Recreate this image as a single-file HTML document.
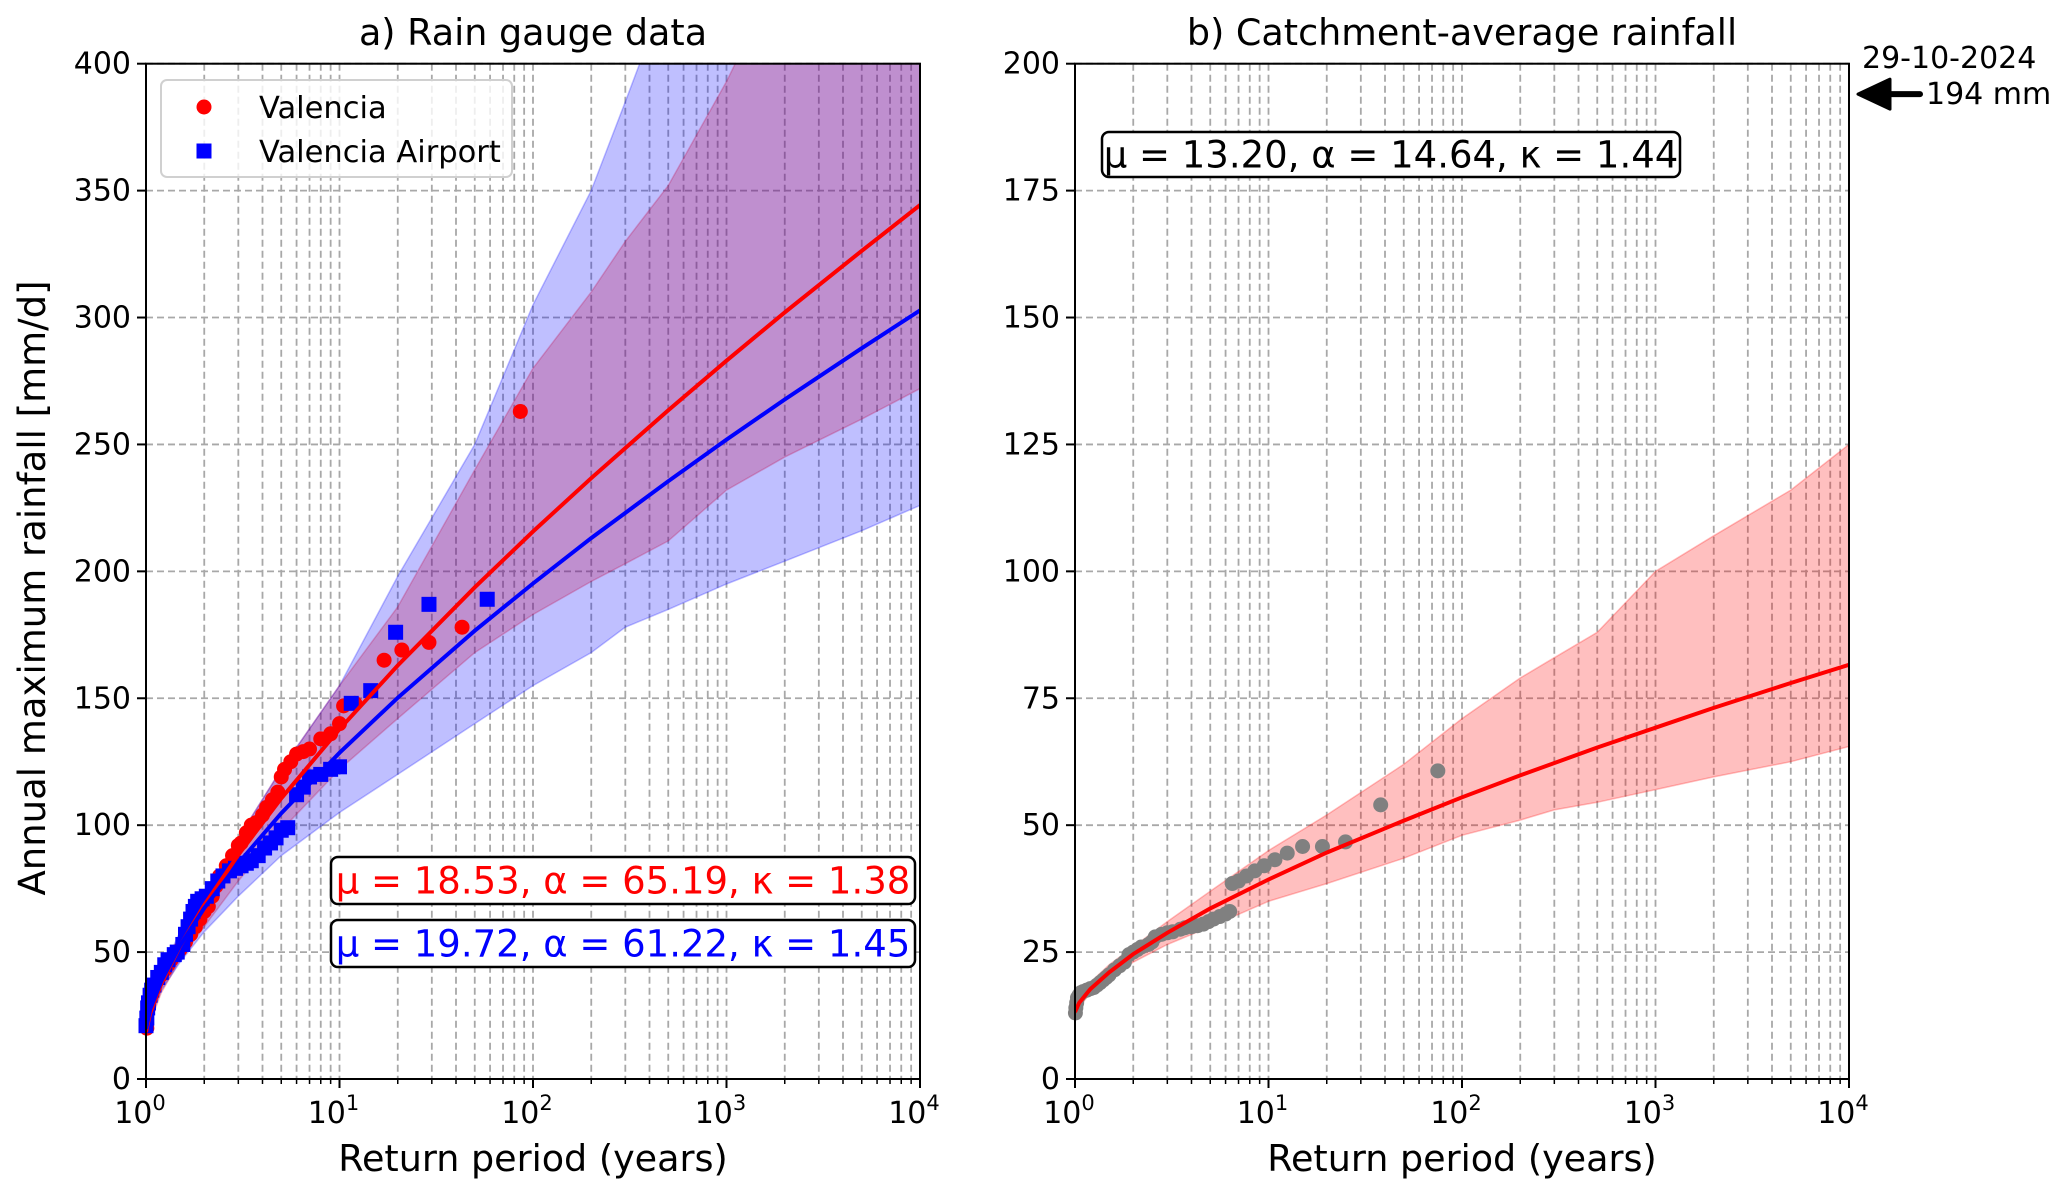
<!DOCTYPE html>
<html><head><meta charset="utf-8">
<style>
html,body{margin:0;padding:0;background:#fff;}
svg{display:block;font-family:"DejaVu Sans","Liberation Sans",sans-serif;}
</style></head>
<body>
<svg id="fig" width="2067" height="1196" viewBox="0 0 2067 1196" xmlns="http://www.w3.org/2000/svg"></svg>
<script>
// ---------- data ----------
const curveT = [1, 1.05, 1.2, 1.5, 2, 3, 5, 10, 20, 50, 100, 200, 500, 1000, 2000, 5000, 10000];
const valenciaFit = [18.5, 25.8, 37.5, 52.4, 68.5, 88.3, 110.6, 137.8, 162.9, 193.7, 215.7, 236.7, 263.5, 283.0, 302.0, 326.3, 344.3];
const airportFit = [19.7, 27.3, 38.6, 52.6, 67.3, 85.0, 104.7, 128.5, 150.2, 176.6, 195.2, 213.1, 235.5, 251.9, 267.7, 287.9, 302.8];
const catchFit = [13.2, 15.0, 17.7, 21.0, 24.6, 28.8, 33.6, 39.3, 44.6, 50.9, 55.5, 59.8, 65.3, 69.2, 73.1, 78.0, 81.6];

const bandT = [1, 1.2, 1.5, 2, 3, 5, 10, 20, 50, 100, 200, 300, 500, 1000, 2000, 5000, 10000];
const valenciaLow = [18, 34, 47, 60, 78, 98, 122, 142, 168, 183, 196, 203, 212, 232, 245, 260, 272];
const valenciaHigh = [19, 41, 57, 73, 95, 122, 155, 186, 240, 280, 310, 330, 352, 393, 440, 500, 545];
const airportLow = [19, 35, 46, 58, 72, 88, 105, 120, 140, 155, 168, 178, 185, 195, 204, 216, 226];
const airportHigh = [20, 42, 58, 72, 95, 122, 155, 198, 250, 305, 350, 385, 430, 500, 560, 640, 700];
const catchLow = [13, 17, 20, 23, 26.5, 30, 35, 38.5, 43.5, 48, 51, 53, 54.5, 57, 59.5, 62.5, 65.5];
const catchHigh = [13.5, 19, 22.5, 26, 31, 37, 45, 52, 62, 71, 79, 83, 88, 100, 107, 116, 125];

const valT = [86, 43, 29, 21, 17, 12, 10.5, 10, 9, 8, 7, 6.5, 6, 5.6, 5.2, 5, 4.8, 4.5, 4.2, 4, 3.7, 3.5, 3.3, 3.1, 3, 2.8, 2.6, 2.4, 2.3, 2.2, 2.1, 2.0, 1.9, 1.8, 1.7, 1.6, 1.5, 1.45, 1.35, 1.3, 1.25, 1.2, 1.15, 1.1, 1.07, 1.05, 1.03, 1.01];
const valV = [263, 178, 172, 169, 165, 148, 147, 140, 136, 134, 130, 129, 128, 125, 122, 119, 113, 110, 107, 104, 101, 100, 97, 93, 92, 88, 84, 80, 76, 72, 68, 66, 63, 60, 57, 54, 51, 50, 47, 45, 43, 41, 39, 37, 35, 32, 28, 20];
const airT = [58, 29, 19.5, 14.5, 11.5, 10, 9, 8, 7, 6.5, 6, 5.4, 5, 4.7, 4.4, 4.1, 3.8, 3.5, 3.3, 3.1, 2.9, 2.7, 2.5, 2.35, 2.2, 2.05, 1.95, 1.85, 1.8, 1.75, 1.7, 1.65, 1.6, 1.55, 1.45, 1.4, 1.3, 1.25, 1.2, 1.15, 1.1, 1.07, 1.05, 1.03, 1.02, 1.01, 1.0];
const airV = [189, 187, 176, 153, 148, 123, 122, 120, 119, 115, 112, 99, 98, 95, 93, 91, 88, 86, 85, 84, 83, 82, 80, 78, 75, 72, 71, 70, 68, 66, 63, 60, 57, 53, 50, 49, 47, 45, 42, 40, 37, 35, 33, 30, 28, 24, 21];
const catT = [75, 38, 25, 19, 15, 12.5, 10.8, 9.5, 8.5, 7.7, 7, 6.5, 6.3, 6, 5.6, 5.2, 4.9, 4.6, 4.3, 4.0, 3.7, 3.5, 3.2, 3.0, 2.8, 2.6, 2.5, 2.4, 2.2, 2.1, 2.0, 1.9, 1.8, 1.7, 1.6, 1.5, 1.45, 1.4, 1.35, 1.3, 1.25, 1.2, 1.15, 1.1, 1.07, 1.05, 1.03, 1.02, 1.01, 1.005];
const catV = [60.7, 54, 46.7, 45.8, 45.8, 44.5, 43.2, 42, 41, 40, 39, 38.5, 33, 32.5, 32, 31.5, 31, 30.5, 30.2, 30, 29.8, 29.5, 29, 28.8, 28.5, 28, 27, 26.5, 26, 25.5, 25, 24.5, 23, 22.3, 21.5, 20.5, 20, 19.5, 19, 18.5, 18, 17.8, 17.5, 17.2, 17, 16.5, 16, 15, 14, 13];

const yTicksA = [0, 50, 100, 150, 200, 250, 300, 350, 400];
const yTicksB = [0, 25, 50, 75, 100, 125, 150, 175, 200];
const xDecades = [0, 1, 2, 3, 4];

// ---------- helpers ----------
const NS = "http://www.w3.org/2000/svg";
const svg = document.getElementById('fig');
function mk(tag, attrs, parent) {
  const e = document.createElementNS(NS, tag);
  for (const k in attrs) e.setAttribute(k, attrs[k]);
  (parent || svg).appendChild(e);
  return e;
}
const TOP = 63.7, BOT = 1079;
function makeAxes(left, right, ymax) {
  const x = t => left + Math.log10(t) / 4 * (right - left);
  const y = v => BOT - v / ymax * (BOT - TOP);
  return { x, y, left, right };
}
const A = makeAxes(146, 920, 400);
const B = makeAxes(1075, 1849, 200);

function drawGrid(ax, yTicks, name) {
  const g = mk('g', {});
  
  
  for (let d = 0; d < 4; d++) for (let m = 1; m <= 9; m++) {
    const t = Math.pow(10, d) * m;
    if (t === 1) continue;
    const X = ax.x(t);
    const l = mk('line', { x1: X, x2: X, y1: TOP, y2: BOT, stroke: '#a8a8a8', 'stroke-width': 1.8, 'stroke-dasharray': '7,4' }, g);
    
    
  }
  yTicks.forEach(v => {
    if (v === 0) return;
    const Y = ax.y(v);
    const l = mk('line', { x1: ax.left, x2: ax.right, y1: Y, y2: Y, stroke: '#a8a8a8', 'stroke-width': 1.8, 'stroke-dasharray': '7,4' }, g);
    
    
  });
}
function band(ax, T, lo, hi, fill, stroke, name, clip) {
  let d = '';
  T.forEach((t, i) => d += (i ? 'L' : 'M') + ax.x(t).toFixed(1) + ',' + ax.y(hi[i]).toFixed(1));
  for (let i = T.length - 1; i >= 0; i--) d += 'L' + ax.x(T[i]).toFixed(1) + ',' + ax.y(lo[i]).toFixed(1);
  d += 'Z';
  const p = mk('path', { d, fill, stroke, 'stroke-width': 1.5, 'clip-path': 'url(#' + clip + ')' });
  
  
}
function line(ax, T, V, color, name, clip) {
  const pts = T.map((t, i) => ax.x(t).toFixed(1) + ',' + ax.y(V[i]).toFixed(1)).join(' ');
  const p = mk('polyline', { points: pts, fill: 'none', stroke: color, 'stroke-width': 4, 'clip-path': 'url(#' + clip + ')' });
  
  
}
function dots(ax, T, V, color, shape, name) {
  const g = mk('g', {});
  
  
  T.forEach((t, i) => {
    const X = ax.x(t), Y = ax.y(V[i]);
    let e;
    if (shape === 'sq') e = mk('rect', { x: X - 7.5, y: Y - 7.5, width: 15, height: 15, fill: color }, g);
    else e = mk('circle', { cx: X, cy: Y, r: 7.5, fill: color }, g);
    
    
  });
}
function axesFrame(ax, yTicks, name) {
  const g = mk('g', {});
  
  
  mk('rect', { x: ax.left, y: TOP, width: ax.right - ax.left, height: BOT - TOP, fill: 'none', stroke: '#000', 'stroke-width': 2 }, g);
  yTicks.forEach(v => {
    const Y = ax.y(v);
    mk('line', { x1: ax.left - 9, x2: ax.left, y1: Y, y2: Y, stroke: '#000', 'stroke-width': 2 }, g);
    const t = mk('text', { x: ax.left - 15, y: Y + 10, 'text-anchor': 'end', 'font-size': 30 }, g);
    t.textContent = v;
    
    
  });
  for (let d = 0; d < 4; d++) for (let m = 2; m <= 9; m++) {
    const X = ax.x(Math.pow(10, d) * m);
    mk('line', { x1: X, x2: X, y1: BOT, y2: BOT + 5, stroke: '#000', 'stroke-width': 1.5 }, g);
  }
  xDecades.forEach(d => {
    const X = ax.x(Math.pow(10, d));
    mk('line', { x1: X, x2: X, y1: BOT, y2: BOT + 9, stroke: '#000', 'stroke-width': 2 }, g);
    const t = mk('text', { x: X - 6, y: BOT + 44, 'text-anchor': 'middle', 'font-size': 30 }, g);
    
    
    t.appendChild(document.createTextNode('10'));
    const s = mk('tspan', { dy: -13, 'font-size': 21 }, t);
    s.textContent = d;
  });
  const xl = mk('text', { x: (ax.left + ax.right) / 2, y: 1171, 'text-anchor': 'middle', 'font-size': 36.5 }, g);
  xl.textContent = 'Return period (years)';
  
  
}
function box(x, y, w, h, text, color, name) {
  const g = mk('g', {});
  
  
  mk('rect', { x, y, width: w, height: h, rx: 7, fill: '#fff', stroke: '#000', 'stroke-width': 2.5 }, g);
  const t = mk('text', { x: x + w / 2, y: y + h / 2 + 13, 'text-anchor': 'middle', 'font-size': 37, fill: color }, g);
  t.textContent = text;
}

// clip paths
const defs = mk('defs', {});
const c1 = mk('clipPath', { id: 'clipA' }, defs); mk('rect', { x: A.left, y: TOP, width: A.right - A.left, height: BOT - TOP }, c1);
const c2 = mk('clipPath', { id: 'clipB' }, defs); mk('rect', { x: B.left, y: TOP, width: B.right - B.left, height: BOT - TOP }, c2);

// ---------- panel a ----------
drawGrid(A, yTicksA, 'panel-a');
band(A, bandT, valenciaLow, valenciaHigh, 'rgba(255,0,0,0.25)', 'rgba(255,0,0,0.25)', 'valencia-confidence-band', 'clipA');
band(A, bandT, airportLow, airportHigh, 'rgba(0,0,255,0.25)', 'rgba(0,0,255,0.25)', 'airport-confidence-band', 'clipA');
dots(A, valT, valV, '#ff0000', 'c', 'valencia-points');
dots(A, airT, airV, '#0000ff', 'sq', 'airport-points');
line(A, curveT, valenciaFit, '#ff0000', 'valencia-fit-line', 'clipA');
line(A, curveT, airportFit, '#0000ff', 'airport-fit-line', 'clipA');
axesFrame(A, yTicksA, 'panel-a');

// legend
const lg = mk('g', {});


mk('rect', { x: 161, y: 80, width: 351, height: 97, rx: 6, fill: 'rgba(255,255,255,0.8)', stroke: '#d0d0d0', 'stroke-width': 2 }, lg);
const le1 = mk('circle', { cx: 204, cy: 107, r: 7.5, fill: '#ff0000' }, lg);


const lt1 = mk('text', { x: 259, y: 118, 'font-size': 30.5 }, lg); lt1.textContent = 'Valencia';


const le2 = mk('rect', { x: 196.5, y: 143.5, width: 15, height: 15, fill: '#0000ff' }, lg);


const lt2 = mk('text', { x: 259, y: 162, 'font-size': 30.5 }, lg); lt2.textContent = 'Valencia Airport';



box(331, 857, 584, 47, 'μ = 18.53, α = 65.19, κ = 1.38', '#ff0000', 'valencia-params-box');
box(331, 920, 584, 47, 'μ = 19.72, α = 61.22, κ = 1.45', '#0000ff', 'airport-params-box');

const ta = mk('text', { x: (A.left + A.right) / 2, y: 45, 'text-anchor': 'middle', 'font-size': 36.5 });
ta.textContent = 'a) Rain gauge data';


const yl = mk('text', { x: 0, y: 0, 'text-anchor': 'middle', 'font-size': 37, transform: 'translate(45,588) rotate(-90)' });
yl.textContent = 'Annual maximum rainfall [mm/d]';



// ---------- panel b ----------
drawGrid(B, yTicksB, 'panel-b');
band(B, bandT, catchLow, catchHigh, 'rgba(255,0,0,0.25)', 'rgba(255,0,0,0.25)', 'catchment-confidence-band', 'clipB');
dots(B, catT, catV, '#808080', 'c', 'catchment-points');
line(B, curveT, catchFit, '#ff0000', 'catchment-fit-line', 'clipB');
axesFrame(B, yTicksB, 'panel-b');
box(1102, 132, 578, 45, 'μ = 13.20, α = 14.64, κ = 1.44', '#000', 'catchment-params-box');
const tb = mk('text', { x: (B.left + B.right) / 2, y: 45, 'text-anchor': 'middle', 'font-size': 36.5 });
tb.textContent = 'b) Catchment-average rainfall';



// event annotation
const ev = mk('g', {});


const d1 = mk('text', { x: 1862, y: 68, 'font-size': 30 }, ev); d1.textContent = '29-10-2024';
const d2 = mk('text', { x: 1926, y: 104, 'font-size': 30 }, ev); d2.textContent = '194 mm';
mk('line', { x1: 1885, x2: 1920, y1: B.y(194), y2: B.y(194), stroke: '#000', 'stroke-width': 6, 'stroke-linecap': 'round' }, ev);
mk('polygon', { points: `1858,${B.y(194)} 1890,${B.y(194) - 15} 1890,${B.y(194) + 15}`, fill: '#000', stroke: '#000', 'stroke-linejoin': 'round', 'stroke-width': 3 }, ev);
</script>
</body></html>
